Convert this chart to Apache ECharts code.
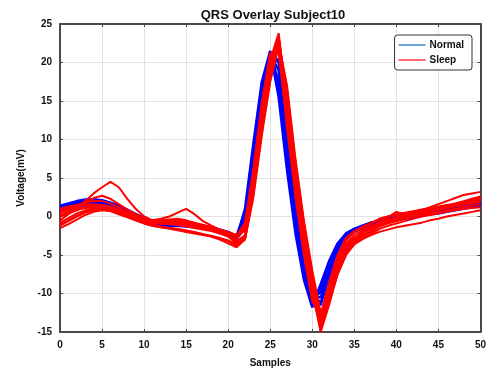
<!DOCTYPE html>
<html>
<head>
<meta charset="utf-8">
<script src="https://cdn.jsdelivr.net/npm/echarts@6/dist/echarts.min.js"></script>
<style>
  html, body { margin: 0; padding: 0; background: #fff; }
  #chart { width: 489px; height: 373px; }
</style>
</head>
<body>
<div id="chart"></div>
<script>
// Sample index of each beat window (0..50)
const samples = [0,1,2,3,4,5,6,7,8,9,10,11,12,13,14,15,16,17,18,19,20,21,22,23,24,25,26,27,28,29,30,31,32,33,34,35,36,37,38,39,40,41,42,43,44,45,46,47,48,49,50];

// Tick labels
const xTicks = [0,5,10,15,20,25,30,35,40,45,50];
const yTicks = [-15,-10,-5,0,5,10,15,20,25];

// Normal beats (mV)
const normal1 = [1.0,1.3,1.6,1.8,1.9,1.8,1.5,1.1,0.6,0.1,-0.4,-0.8,-1.0,-1.0,-1.0,-1.1,-1.2,-1.3,-1.5,-1.8,-2.2,-2.7,-0.5,7.0,15.0,21.0,19.0,9.5,0.0,-6.5,-10.8,-9.8,-7.0,-4.2,-2.6,-1.8,-1.4,-0.9,-0.7,-0.5,-0.3,-0.1,0.1,0.3,0.5,0.6,0.8,1.0,1.2,1.4,1.6];
const normal2 = [1.4,1.7,2.0,2.2,2.2,2.0,1.6,1.1,0.5,0.0,-0.4,-0.7,-0.9,-0.9,-0.8,-0.9,-1.0,-1.2,-1.4,-1.7,-2.1,-2.5,0.5,9.0,17.0,21.0,16.5,7.0,-1.5,-7.5,-11.2,-9.0,-6.0,-3.6,-2.3,-1.6,-1.2,-0.8,-0.6,-0.3,-0.1,0.1,0.3,0.5,0.7,0.9,1.0,1.2,1.4,1.6,1.8];
const normal3 = [0.6,1.0,1.3,1.5,1.5,1.4,1.2,0.8,0.4,-0.1,-0.5,-0.9,-1.1,-1.2,-1.2,-1.3,-1.4,-1.5,-1.7,-2.0,-2.4,-2.9,-1.5,5.0,13.0,19.5,20.5,12.0,2.5,-4.5,-9.8,-11.5,-7.8,-4.8,-2.9,-2.0,-1.5,-1.1,-0.9,-0.7,-0.5,-0.3,-0.1,0.1,0.3,0.4,0.6,0.8,1.0,1.2,1.3];
const normal4 = [1.2,1.5,1.8,2.0,2.1,2.0,1.7,1.3,0.8,0.3,-0.2,-0.6,-0.8,-0.9,-1.0,-1.0,-1.1,-1.2,-1.4,-1.7,-2.0,-2.6,-0.8,6.8,14.8,21.3,20.0,10.5,0.8,-6.0,-10.5,-10.5,-7.2,-4.4,-2.7,-1.9,-1.5,-1.0,-0.8,-0.5,-0.3,-0.1,0.2,0.4,0.6,0.8,1.0,1.2,1.4,1.7,2.0];
const normal5 = [0.8,1.2,1.5,1.7,1.8,1.7,1.4,1.0,0.5,0.0,-0.5,-0.9,-1.1,-1.1,-1.1,-1.2,-1.3,-1.4,-1.6,-1.9,-2.3,-2.8,1.0,9.5,17.5,21.5,15.5,6.0,-2.2,-8.2,-11.8,-8.8,-5.8,-3.5,-2.2,-1.6,-1.2,-0.8,-0.6,-0.4,-0.2,0.0,0.2,0.4,0.5,0.7,0.9,1.1,1.3,1.5,1.7];
const normal6 = [1.1,1.5,1.9,2.1,2.2,2.1,1.8,1.4,0.9,0.3,-0.2,-0.6,-0.9,-1.0,-1.0,-1.0,-1.1,-1.3,-1.5,-1.8,-2.2,-2.7,0.0,8.0,16.0,21.2,17.5,8.0,-0.8,-7.0,-11.0,-9.2,-6.5,-3.9,-2.4,-1.7,-1.3,-0.8,-0.5,-0.3,-0.1,0.1,0.3,0.5,0.7,0.9,1.1,1.3,1.5,1.7,1.9];
const normal7 = [0.9,1.3,1.7,1.9,2.0,1.9,1.6,1.2,0.7,0.2,-0.3,-0.7,-0.9,-1.0,-1.1,-1.1,-1.2,-1.4,-1.6,-1.9,-2.3,-2.8,-1.2,5.5,13.5,20.2,20.2,11.5,2.0,-5.0,-10.0,-11.2,-7.5,-4.6,-2.8,-1.9,-1.5,-1.0,-0.8,-0.6,-0.4,-0.2,0.0,0.2,0.4,0.6,0.8,1.0,1.2,1.4,1.6];

// Sleep beats (mV)
const sleep1 = [0.0,0.5,1.2,2.0,3.0,3.8,4.5,3.8,2.3,1.0,0.0,-0.5,-0.6,-0.5,-0.4,-0.6,-0.9,-1.2,-1.5,-1.8,-2.2,-2.6,-1.5,5.0,13.5,20.0,22.5,13.5,4.5,-2.8,-9.0,-13.5,-10.0,-6.5,-4.0,-2.8,-2.0,-1.5,-0.7,-0.4,-0.1,0.2,0.5,0.8,1.0,1.2,1.4,1.6,1.8,2.0,2.2];
const sleep2 = [-0.5,0.3,1.0,1.8,2.4,2.7,2.3,1.6,0.9,0.3,-0.2,-0.5,-0.7,-0.8,-0.9,-1.1,-1.3,-1.5,-1.8,-2.1,-2.5,-3.2,-2.5,4.0,12.5,19.0,23.5,15.0,5.5,-2.0,-8.5,-14.5,-10.8,-7.0,-4.5,-3.2,-2.4,-1.9,-1.1,-0.8,-0.5,-0.2,0.1,0.4,0.6,0.9,1.1,1.4,1.7,2.0,2.3];
const sleep3 = [-1.5,-1.0,-0.4,0.2,0.6,0.8,0.7,0.4,0.0,-0.3,-0.5,-0.5,-0.3,0.0,0.5,1.0,0.3,-0.6,-1.2,-1.7,-2.2,-2.9,-1.5,6.0,14.5,21.0,21.5,12.0,3.0,-4.5,-10.5,-13.0,-9.0,-5.8,-3.8,-2.8,-2.1,-1.6,-0.8,-0.5,-0.2,0.1,0.4,0.6,0.8,1.0,1.2,1.5,1.8,2.1,2.5];
const sleep4 = [-1.0,-0.5,0.1,0.6,1.0,1.1,0.9,0.5,0.0,-0.5,-0.9,-1.2,-1.4,-1.5,-1.6,-1.8,-2.0,-2.3,-2.6,-3.0,-3.5,-4.0,-3.0,2.5,10.5,17.5,22.0,16.0,6.5,-1.0,-7.5,-13.0,-11.0,-7.5,-5.0,-3.6,-2.9,-2.4,-2.0,-1.7,-1.4,-1.2,-1.0,-0.8,-0.5,-0.3,0.0,0.2,0.4,0.6,0.8];
const sleep5 = [1.0,1.3,1.5,1.6,1.5,1.3,1.0,0.6,0.2,-0.2,-0.5,-0.6,-0.6,-0.5,-0.6,-0.8,-1.0,-1.2,-1.5,-1.8,-2.1,-2.6,-1.8,4.8,13.3,20.3,23.8,14.8,5.0,-2.8,-9.5,-14.8,-11.0,-7.0,-4.2,-2.8,-2.1,-1.6,-1.0,-0.7,-0.3,0.0,0.4,0.8,1.2,1.6,2.0,2.4,2.8,3.0,3.2];
const sleep6 = [0.2,0.6,0.9,1.1,1.2,1.1,0.9,0.5,0.1,-0.3,-0.6,-0.8,-0.9,-1.0,-1.1,-1.3,-1.5,-1.7,-1.9,-2.2,-2.6,-3.5,-3.0,3.0,11.0,18.0,22.5,17.0,7.5,-0.5,-7.0,-12.5,-10.5,-7.0,-4.5,-3.0,-2.1,-1.5,-0.7,-0.1,0.6,0.3,0.5,0.7,0.9,1.1,1.3,1.5,1.6,1.8,2.0];
const sleep7 = [-0.8,-0.2,0.4,0.8,1.0,0.9,0.7,0.3,-0.1,-0.5,-0.9,-1.2,-1.4,-1.6,-1.8,-2.0,-2.2,-2.4,-2.6,-2.9,-3.2,-3.8,-2.6,4.3,12.7,19.7,23.3,14.7,5.2,-2.5,-9.5,-15.0,-11.5,-7.5,-4.8,-3.4,-2.6,-2.0,-1.3,-0.9,-0.6,-0.3,0.0,0.2,0.4,0.6,0.8,1.0,1.2,1.4,1.6];
const sleep8 = [0.5,0.8,1.0,1.2,1.2,1.0,0.8,0.4,0.0,-0.4,-0.6,-0.8,-0.8,-0.7,-0.8,-1.0,-1.2,-1.4,-1.6,-1.9,-2.3,-2.8,-1.0,5.5,14.0,20.5,22.0,12.5,3.5,-4.0,-10.5,-14.0,-9.8,-6.0,-3.6,-2.4,-1.8,-1.3,-0.9,-0.6,-0.3,0.0,0.3,0.5,0.7,0.9,1.1,1.3,1.5,1.7,1.9];
const sleep9 = [0.9,1.2,1.5,1.8,2.0,2.0,1.7,1.2,0.6,0.1,-0.3,-0.5,-0.5,-0.4,-0.3,-0.5,-0.8,-1.1,-1.4,-1.7,-2.0,-2.4,-1.2,5.5,14.0,20.5,22.8,13.0,4.0,-3.5,-10.0,-13.8,-9.5,-5.5,-3.2,-2.0,-1.5,-1.0,-0.3,0.0,0.3,0.5,0.7,0.9,1.1,1.3,1.5,1.7,2.0,2.3,2.6];
const sleep10 = [0.0,0.4,0.8,1.2,1.5,1.5,1.3,0.9,0.5,0.0,-0.4,-0.7,-0.9,-1.0,-0.9,-0.7,-0.9,-1.3,-1.7,-2.1,-2.6,-3.3,-2.4,4.0,12.4,19.4,23.4,14.6,5.0,-2.8,-9.6,-14.6,-10.8,-7.0,-4.4,-3.2,-2.5,-2.0,-1.2,-0.8,-0.5,-0.2,0.1,0.4,0.7,1.0,1.3,1.6,1.9,2.2,2.5];
const sleep11 = [-1.2,-0.6,0.0,0.5,0.8,0.9,0.8,0.5,0.1,-0.3,-0.7,-1.0,-1.3,-1.5,-1.7,-1.9,-2.1,-2.3,-2.5,-2.8,-3.1,-3.6,-2.8,3.2,11.5,18.5,22.8,16.5,7.0,-0.8,-8.0,-13.5,-11.0,-7.5,-5.0,-3.6,-2.9,-2.3,-1.6,-1.2,-0.9,-0.6,-0.3,0.0,0.2,0.4,0.6,0.8,1.0,1.1,1.2];
const sleep12 = [0.6,1.0,1.3,1.5,1.6,1.5,1.2,0.8,0.3,-0.1,-0.4,-0.6,-0.7,-0.7,-0.6,-0.7,-0.9,-1.1,-1.4,-1.7,-2.1,-2.5,-0.8,6.2,14.8,21.2,21.8,11.5,2.5,-5.0,-11.0,-12.8,-8.5,-5.0,-2.8,-1.9,-1.3,-0.8,-0.3,0.0,0.2,0.4,0.6,0.8,1.0,1.2,1.4,1.6,1.8,2.0,2.2];

const normalBeats = [normal1, normal2, normal3, normal4, normal5, normal6, normal7];
const sleepBeats = [sleep1, sleep2, sleep3, sleep4, sleep5, sleep6, sleep7, sleep8, sleep9, sleep10, sleep11, sleep12];

normalBeats.concat(sleepBeats).forEach((beat, k) => {
  if (beat.length !== samples.length) throw new Error('beat ' + k + ' has ' + beat.length + ' samples');
});

const FONT = 'Liberation Sans';
const AXIS_COLOR = '#4a4a4a';
const TEXT_COLOR = '#111';

function beatSeries(values, name, color, width) {
  return {
    name: name,
    type: 'line',
    xAxisIndex: 0,
    yAxisIndex: 0,
    symbol: 'none',
    silent: true,
    animation: false,
    lineStyle: { color: color, width: width },
    itemStyle: { color: color },
    data: samples.map((s, i) => [s, values[i]])
  };
}

const series = []
  .concat(normalBeats.map(v => beatSeries(v, 'Normal', '#0000ff', 2.5)))
  .concat(sleepBeats.map(v => beatSeries(v, 'Sleep', '#ff0000', 2)));

const tickLabel = { fontFamily: FONT, fontSize: 10, fontWeight: 'bold', color: TEXT_COLOR };
const nameText = { fontFamily: FONT, fontSize: 10, fontWeight: 'bold', color: TEXT_COLOR };

// Frame axes (top / right) carry inward ticks only
const frameAxis = {
  axisLine: { show: true, onZero: false, lineStyle: { color: AXIS_COLOR, width: 2 } },
  axisTick: { show: true, inside: true, length: 3, lineStyle: { color: AXIS_COLOR } },
  axisLabel: { show: false },
  splitLine: { show: false }
};

const chart = echarts.init(document.getElementById('chart'), null, { renderer: 'canvas' });
chart.setOption({
  animation: false,
  backgroundColor: '#ffffff',
  title: {
    text: 'QRS Overlay Subject10',
    left: 268, top: 4, textAlign: 'center',
    textStyle: { fontFamily: FONT, fontSize: 13, fontWeight: 'bold', color: TEXT_COLOR }
  },
  legend: {
    right: 17, top: 35,
    orient: 'vertical',
    itemWidth: 27, itemHeight: 2, itemGap: 5,
    padding: [5, 8, 5, 4],
    borderColor: '#333', borderWidth: 1, borderRadius: 3,
    backgroundColor: '#fff',
    textStyle: { fontFamily: FONT, fontSize: 10, fontWeight: 'bold', color: TEXT_COLOR, padding: [0, 0, 0, -1] },
    data: [
      { name: 'Normal', icon: 'rect', itemStyle: { color: '#6aa6de' } },
      { name: 'Sleep', icon: 'rect', itemStyle: { color: '#ff6a6a' } }
    ]
  },
  grid: { left: 60, right: 4, top: 24, bottom: 38, containLabel: false },
  xAxis: [{
    type: 'value', min: 0, max: 50, interval: 5,
    name: 'Samples', nameLocation: 'middle', nameGap: 26,
    nameTextStyle: nameText,
    axisLine: { show: true, onZero: false, lineStyle: { color: AXIS_COLOR, width: 2 } },
    axisTick: { show: true, inside: true, length: 3, lineStyle: { color: AXIS_COLOR } },
    axisLabel: Object.assign({ margin: 8, formatter: v => xTicks.includes(v) ? String(v) : '' }, tickLabel),
    splitLine: { show: true, lineStyle: { color: '#e2e2e2', width: 1 } }
  }, Object.assign({ type: 'value', min: 0, max: 50, interval: 5, position: 'top' }, frameAxis)],
  yAxis: [{
    type: 'value', min: -15, max: 25, interval: 5,
    name: 'Voltage(mV)', nameLocation: 'middle', nameGap: 33,
    nameTextStyle: nameText,
    axisLine: { show: true, onZero: false, lineStyle: { color: AXIS_COLOR, width: 2 } },
    axisTick: { show: true, inside: true, length: 3, lineStyle: { color: AXIS_COLOR } },
    axisLabel: Object.assign({ margin: 8, formatter: v => yTicks.includes(v) ? String(v) : '' }, tickLabel),
    splitLine: { show: true, lineStyle: { color: '#e2e2e2', width: 1 } }
  }, Object.assign({ type: 'value', min: -15, max: 25, interval: 5, position: 'right' }, frameAxis)],
  series: series
});
</script>
</body>
</html>
